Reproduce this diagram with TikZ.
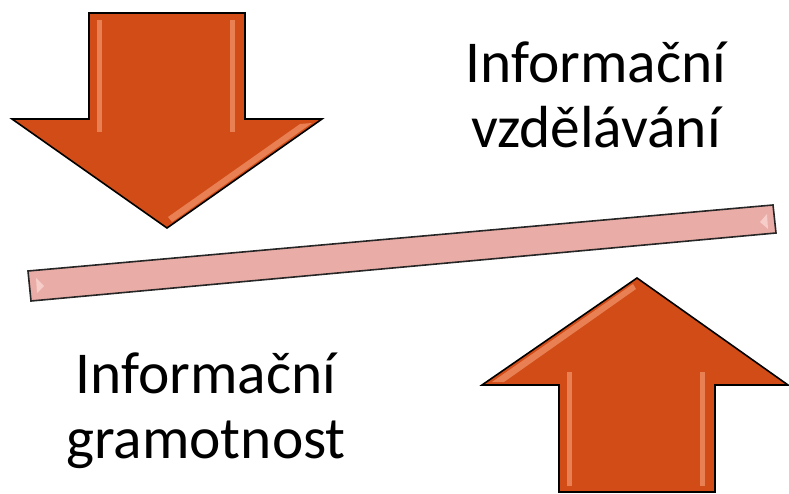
\documentclass[tikz,border=0pt]{standalone}
\usepackage{fontspec}
\setmainfont{Carlito}
\definecolor{arrowfill}{RGB}{210,76,24}
\definecolor{arrowlight}{RGB}{232,128,84}
\definecolor{barfill}{RGB}{234,172,166}
\definecolor{barlight}{RGB}{246,205,200}
\tikzset{
  bigarrow/.style={draw=black, line width=1.6pt, fill=arrowfill, line join=miter},
  bevel/.style={fill=arrowlight, draw=none},
  plank/.style={draw=black!85, line width=1.6pt, fill=barfill},
  caption/.style={align=center, inner sep=0pt, font=\fontsize{59.4}{65}\selectfont}
}

\begin{document}
\begin{tikzpicture}[x=1pt, y=-1pt]
  \useasboundingbox (0,0) rectangle (789,494);
  % arrow pointing down
  \draw [bigarrow] (89,13) -- (245,13) -- (245,119) -- (322,119) -- (167,228) -- (12,119) -- (89,119) -- cycle;
  \fill [bevel] (97,20) rectangle (102,132);
  \fill [bevel] (230,20) rectangle (235,132);
  \fill [bevel] (312,123) -- (172,222) -- (168,217) -- (300,124) -- cycle;
  % arrow pointing up
  \draw [bigarrow] (559,492) -- (559,385) -- (482,385) -- (637,278) -- (788,385) -- (715,385) -- (715,492) -- cycle;
  \fill [bevel] (567,372) rectangle (572,486);
  \fill [bevel] (700,372) rectangle (705,486);
  \fill [bevel] (492,382) -- (633,284) -- (636,289) -- (504,382) -- cycle;
  % tilted bar
  \draw [plank] (28,271) -- (773,205) -- (776,233) -- (31,301) -- cycle;
  \fill [barlight] (36,278) -- (44,286) -- (37,293) -- cycle;
  \fill [barlight] (767,214) -- (760,222) -- (768,229) -- cycle;
  % labels
  \node [caption, anchor=base] (vzdelavani) at (596,148) {Informační\\vzdělávání};
  \node [caption, anchor=base] (gramotnost) at (206,458) {Informační\\gramotnost};
\end{tikzpicture}
\end{document}
